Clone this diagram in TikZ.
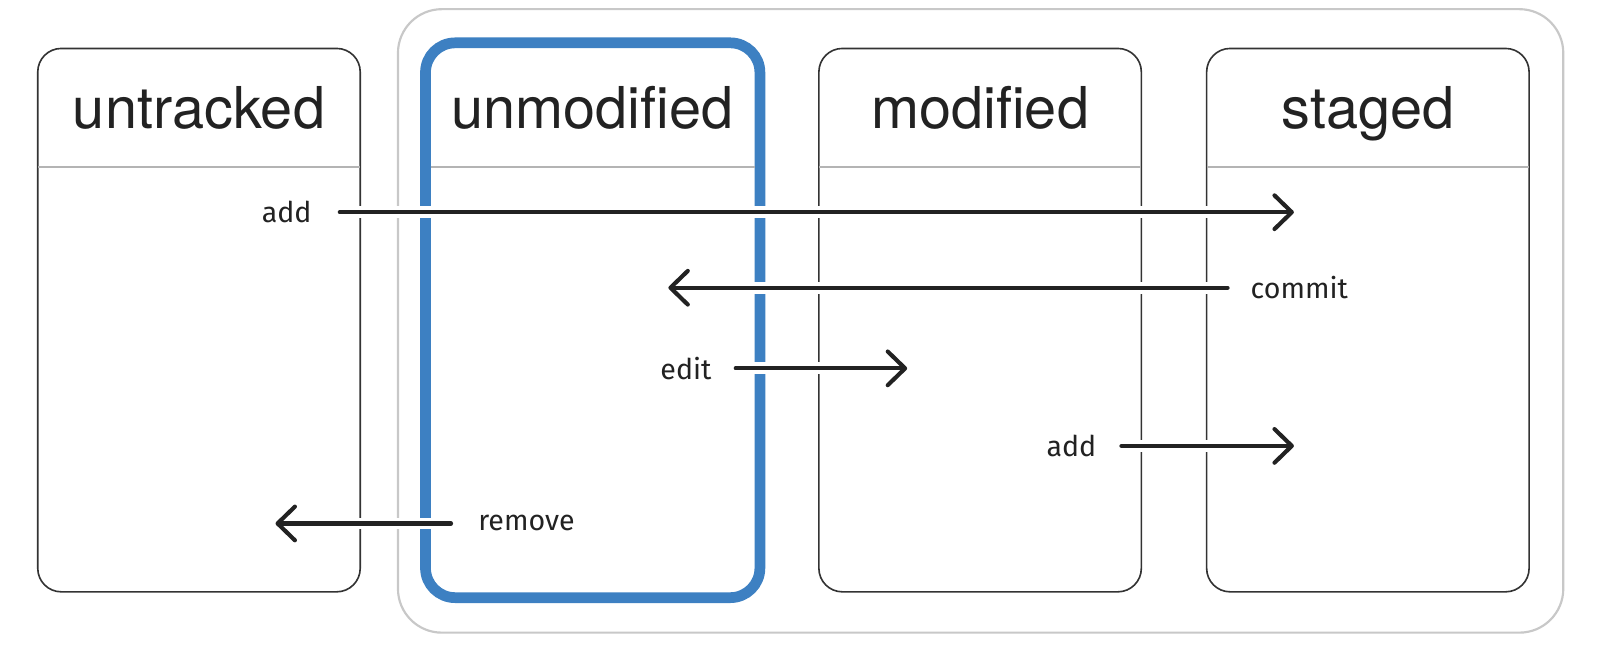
\documentclass[tikz,border=0pt]{standalone}
\usepackage{fontspec}
\usetikzlibrary{arrows.meta}
\newfontfamily\titlefont{TeX Gyre Heros}
\newfontfamily\lblfont{Fira Sans}
\definecolor{inkc}{HTML}{222222}
\definecolor{boxc}{HTML}{333333}
\definecolor{hdrc}{HTML}{B4B4B4}
\definecolor{bluec}{HTML}{3D80C2}
\definecolor{outerc}{HTML}{C8C8C8}
\tikzset{
  statebox/.style={draw=boxc, line width=0.45pt, rounded corners=0.23cm, outer sep=0pt, inner sep=0pt, minimum width=3.16cm, minimum height=5.325cm},
  bluebox/.style={draw=bluec, line width=2.99pt, rounded corners=0.29cm, outer sep=0pt, inner sep=0pt, minimum width=3.277cm, minimum height=5.437cm},
  outerbox/.style={draw=outerc, line width=0.6pt, rounded corners=0.43cm, outer sep=0pt, inner sep=0pt, minimum width=11.42cm, minimum height=6.11cm},
  hdr/.style={draw=hdrc, line width=0.45pt},
  titletext/.style={text=inkc, inner sep=0pt, anchor=base, font=\titlefont\fontsize{16.08pt}{19pt}\selectfont},
  lbl/.style={text=inkc, inner sep=0pt, font=\lblfont\fontsize{7.97pt}{9.6pt}\selectfont},
  halo/.style={draw=white, line width=3.3pt},
  flow/.style={draw=inkc, line width=1.15pt, line cap=round, -{Straight Barb[length=0.17cm, width=0.33cm, round]}},
}
\begin{document}
\begin{tikzpicture}
\useasboundingbox (0,0) rectangle (15.68,6.33);
\fill[white] (0,0) rectangle (15.68,6.33);

% outer working-area box
\node[outerbox] (outer) at (9.61,3.185) {};

% state boxes
\node[statebox] (untracked) at (1.95,3.1925) {};
\node[bluebox] (unmodified) at (5.8085,3.1915) {};
\node[statebox] (modified) at (9.605,3.1925) {};
\node[statebox] (staged) at (13.405,3.1925) {};

% header separators
\draw[hdr] (untracked.west |- 0,4.695) -- (untracked.east |- 0,4.695);
\draw[hdr] (4.22,4.695) -- (7.40,4.695);
\draw[hdr] (modified.west |- 0,4.695) -- (modified.east |- 0,4.695);
\draw[hdr] (staged.west |- 0,4.695) -- (staged.east |- 0,4.695);

% titles
\node[titletext] (untrackedT) at (1.95,5.073) {untracked};
\node[titletext] (unmodifiedT) at (5.8085,5.073) {unmodified};
\node[titletext] (modifiedT) at (9.605,5.073) {modified};
\node[titletext] (stagedT) at (13.405,5.073) {staged};

% labels
\node[lbl, anchor=east] (addL) at (3.06,4.25) {add};
\node[lbl, anchor=west] (commitL) at (12.25,3.51) {commit};
\node[lbl, anchor=east] (editL) at (6.98,2.72) {edit};
\node[lbl, anchor=east] (addTwoL) at (10.75,1.96) {add};
\node[lbl, anchor=west] (removeL) at (4.68,1.20) {remove};

% arrow end points
\coordinate (addS) at (3.33,4.25);
\coordinate (addE) at (12.68,4.25);
\coordinate (commitS) at (12.03,3.51);
\coordinate (commitE) at (6.55,3.51);
\coordinate (editS) at (7.21,2.72);
\coordinate (editE) at (8.89,2.72);
\coordinate (addTwoS) at (10.99,1.96);
\coordinate (addTwoE) at (12.68,1.96);
\coordinate (removeS) at (4.42,1.20);
\coordinate (removeE) at (2.70,1.20);

% halos
\draw[halo] (addS) -- (addE);
\draw[halo] (commitS) -- (commitE);
\draw[halo] (editS) -- (editE);
\draw[halo] (addTwoS) -- (addTwoE);
\draw[halo] (removeS) -- (removeE);

% arrows
\draw[flow] (addS) -- (addE);
\draw[flow] (commitS) -- (commitE);
\draw[flow] (editS) -- (editE);
\draw[flow] (addTwoS) -- (addTwoE);
\draw[flow] (removeS) -- (removeE);
\end{tikzpicture}
\end{document}
